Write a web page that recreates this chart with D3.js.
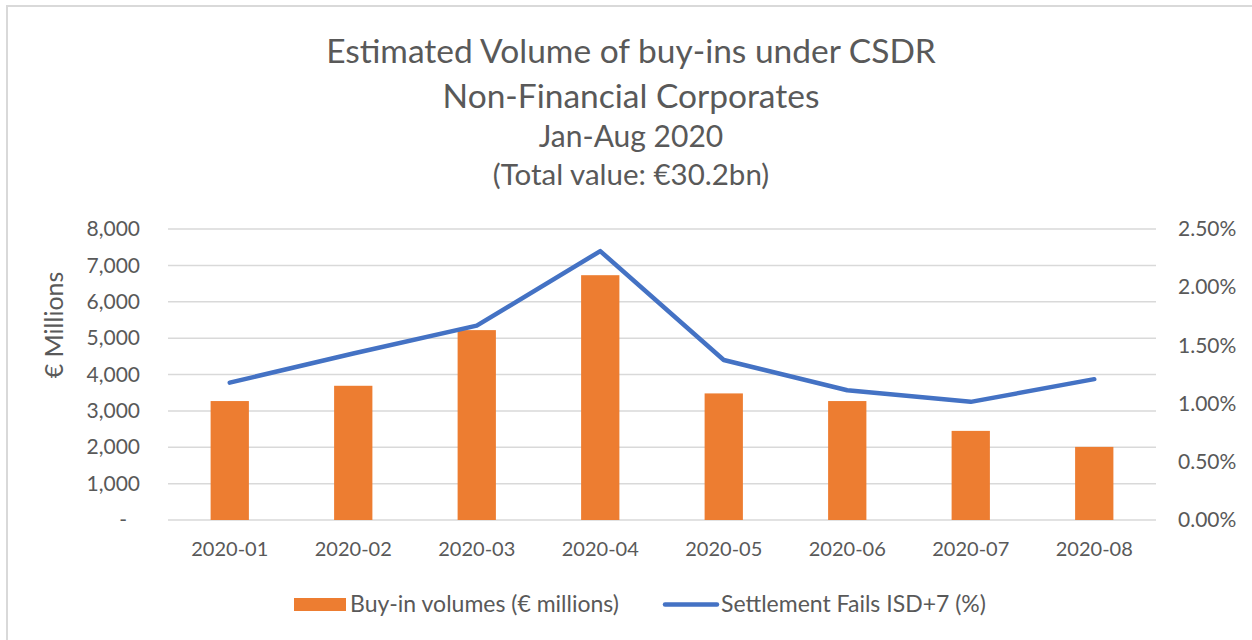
<!DOCTYPE html>
<html><head><meta charset="utf-8">
<script src="https://cdn.jsdelivr.net/npm/d3@7"></script>
<style>body{margin:0;background:#fff;}svg{display:block;font-family:Lato,"Open Sans",sans-serif;}</style>
</head><body>
<svg id="c" width="1252" height="640"></svg>
<script>
const categories = ["2020-01","2020-02","2020-03","2020-04","2020-05","2020-06","2020-07","2020-08"];
const buyInVolumes = [3270, 3690, 5220, 6730, 3480, 3270, 2450, 2010];
const settlementFails = [1.18, 1.43, 1.67, 2.31, 1.375, 1.115, 1.015, 1.21];
const leftTicks = [0,1000,2000,3000,4000,5000,6000,7000,8000];
const rightTicks = [0,0.5,1.0,1.5,2.0,2.5];
const titleLines = ["Estimated Volume of buy-ins under CSDR","Non-Financial Corporates","Jan-Aug 2020","(Total value: €30.2bn)"];
const seriesNames = ["Buy-in volumes (€ millions)","Settlement Fails ISD+7 (%)"];

const svg = d3.select("#c");
const txt = "#595959", grid = "#d9d9d9", orange = "#ED7D31", blue = "#4472C4";

// chart frame (top and left edges visible)
svg.append("line").attr("x1",6).attr("x2",1252).attr("y1",6).attr("y2",6).attr("stroke","#d9d9d9").attr("stroke-width",2);
svg.append("line").attr("x1",7).attr("x2",7).attr("y1",5).attr("y2",640).attr("stroke","#d9d9d9").attr("stroke-width",2);

const x = d3.scaleBand().domain(categories).range([168,1156]).paddingInner(0.69).paddingOuter(0.345);
const y = d3.scaleLinear().domain([0,8000]).range([520,229]);
const y2 = d3.scaleLinear().domain([0,2.5]).range([520,229]);

// title
const tY = [63,108,147,185], tS = [33.5,33.5,30,29.5];
titleLines.forEach((t,i)=>svg.append("text").attr("x",631).attr("y",tY[i]).attr("text-anchor","middle")
  .attr("font-size",tS[i]).attr("fill",txt).text(t));

// grid
svg.append("g").selectAll("line").data(leftTicks).join("line")
  .attr("x1",168).attr("x2",1156).attr("y1",d=>y(d)).attr("y2",d=>y(d))
  .attr("stroke",grid).attr("stroke-width",1.5);

// left axis
const fmt = d3.format(",");
const la = svg.append("g").attr("transform","translate(140,0)")
  .call(d3.axisLeft(y).tickValues(leftTicks).tickSize(0).tickPadding(0).tickFormat(d=>d===0?"-":fmt(d)));
la.select(".domain").remove();
la.selectAll("text").attr("font-size",21).attr("fill",txt).attr("font-family","Lato,sans-serif");
la.selectAll(".tick").filter(d=>d===0).select("text").attr("dx",-13);

const ra = svg.append("g").attr("transform","translate(1178,0)")
  .call(d3.axisRight(y2).tickValues(rightTicks).tickSize(0).tickPadding(0).tickFormat(d=>d.toFixed(2)+"%"));
ra.select(".domain").remove();
ra.selectAll("text").attr("font-size",21).attr("fill",txt).attr("font-family","Lato,sans-serif");

const xa = svg.append("g").attr("transform","translate(0,520)")
  .call(d3.axisBottom(x).tickSize(0).tickPadding(22));
xa.select(".domain").remove();
xa.selectAll("text").attr("font-size",20).attr("fill",txt).attr("font-family","Lato,sans-serif");

svg.append("text").attr("transform","translate(63,325) rotate(-90)").attr("text-anchor","middle")
  .attr("font-size",25).attr("fill",txt).text("€ Millions");

// bars
svg.append("g").selectAll("rect").data(buyInVolumes).join("rect")
  .attr("x",(d,i)=>x(categories[i])).attr("width",x.bandwidth())
  .attr("y",d=>y(d)).attr("height",d=>520-y(d)).attr("fill",orange);

// line
const line = d3.line().x((d,i)=>x(categories[i])+x.bandwidth()/2).y(d=>y2(d));
svg.append("path").datum(settlementFails).attr("d",line).attr("fill","none")
  .attr("stroke",blue).attr("stroke-width",4.5).attr("stroke-linecap","round").attr("stroke-linejoin","round");

// legend
const lg = svg.append("g");
lg.append("rect").attr("x",294).attr("y",598).attr("width",52).attr("height",13).attr("fill",orange);
lg.append("text").attr("x",350).attr("y",612).attr("font-size",23).attr("fill",txt).text(seriesNames[0]);
lg.append("line").attr("x1",665).attr("x2",717).attr("y1",604.5).attr("y2",604.5)
  .attr("stroke",blue).attr("stroke-width",4.5).attr("stroke-linecap","round");
lg.append("text").attr("x",721).attr("y",612).attr("font-size",23).attr("fill",txt).text(seriesNames[1]);
</script>
</body></html>
